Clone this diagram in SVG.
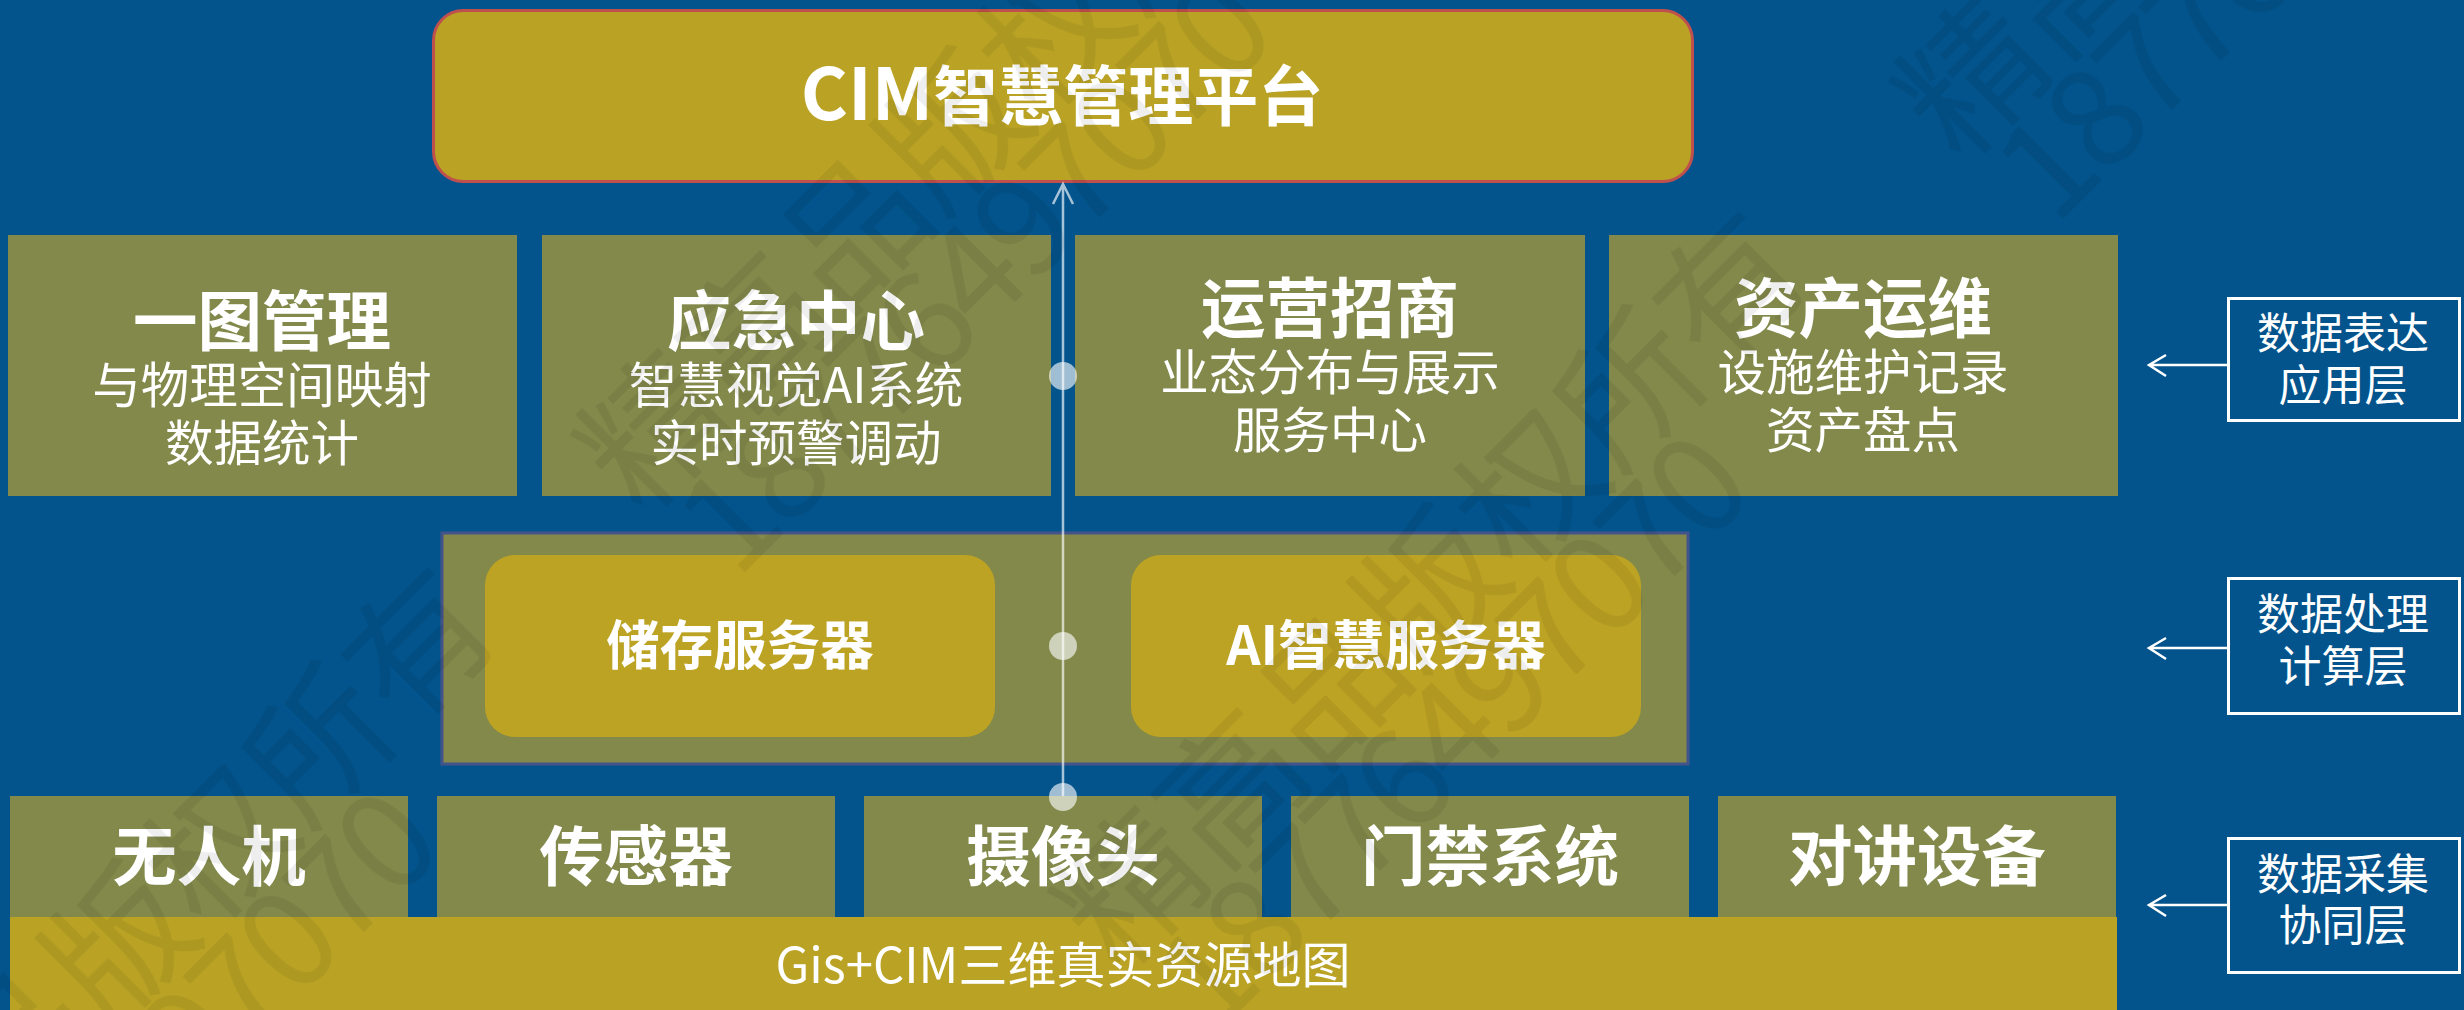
<svg xmlns="http://www.w3.org/2000/svg" width="2464" height="1010" viewBox="0 0 2464 1010">
<style>
text{font-family:"Noto Sans CJK SC","Liberation Sans",sans-serif;fill:#fff;text-anchor:middle}
.t{font-size:65px;font-weight:700}
.t tspan{font-size:72px}
.h{font-size:64.5px;font-weight:700}
.s{font-size:48.5px;font-weight:400}
.g{font-size:49px;font-weight:400}
.m{font-size:53.5px;font-weight:700}
.r{font-size:43px;font-weight:400}
.ol{fill:#82894a}
.gd{fill:#baa324}
.lab{fill:#03548c;stroke:#fff;stroke-width:3}
.wm text{font-size:141px;font-weight:400;fill:#000;text-anchor:end}
.wm .d{font-size:136px;letter-spacing:-6px}
.wm{opacity:.07}
.ln{stroke:#fff;fill:none}
</style>
<rect width="2464" height="1010" fill="#03548c"/>
<g id="platform"><rect x="433.5" y="10.5" width="1259" height="171" rx="30" class="gd" stroke="#c0504d" stroke-width="3"/><text class="t" x="1062" y="120"><tspan>CIM</tspan>智慧管理平台</text></g>
<g id="app1"><rect x="8" y="235" width="509" height="261" class="ol"/><text class="h" x="262" y="345">一图管理</text><text class="s" x="262" y="403">与物理空间映射</text><text class="s" x="262" y="461">数据统计</text></g>
<g id="app2"><rect x="542" y="235" width="509" height="261" class="ol"/><text class="h" x="796" y="345">应急中心</text><text class="s" x="796" y="403">智慧视觉AI系统</text><text class="s" x="796" y="461">实时预警调动</text></g>
<g id="app3"><rect x="1075" y="235" width="510" height="261" class="ol"/><text class="h" x="1330" y="332">运营招商</text><text class="s" x="1330" y="390">业态分布与展示</text><text class="s" x="1330" y="448">服务中心</text></g>
<g id="app4"><rect x="1609" y="235" width="509" height="261" class="ol"/><text class="h" x="1863" y="332">资产运维</text><text class="s" x="1863" y="390">设施维护记录</text><text class="s" x="1863" y="448">资产盘点</text></g>
<g id="servers"><rect x="442" y="533" width="1246" height="231" class="ol" stroke="#44548a" stroke-width="3"/></g>
<g id="storage"><rect x="485" y="555" width="510" height="182" rx="30" fill="#bda324"/><text class="m" x="740" y="665">储存服务器</text></g>
<g id="ai"><rect x="1131" y="555" width="510" height="182" rx="30" fill="#bda324"/><text class="m" x="1386" y="665">AI智慧服务器</text></g>
<g id="d1"><rect x="10" y="796" width="398" height="121" class="ol"/><text class="h" x="209" y="880">无人机</text></g>
<g id="d2"><rect x="437" y="796" width="398" height="121" class="ol"/><text class="h" x="636" y="880">传感器</text></g>
<g id="d3"><rect x="864" y="796" width="398" height="121" class="ol"/><text class="h" x="1063" y="880">摄像头</text></g>
<g id="d4"><rect x="1291" y="796" width="398" height="121" class="ol"/><text class="h" x="1490" y="880">门禁系统</text></g>
<g id="d5"><rect x="1718" y="796" width="398" height="121" class="ol"/><text class="h" x="1917" y="880">对讲设备</text></g>
<g id="map"><rect x="10" y="917" width="2107" height="93" class="gd"/><text class="g" x="1063" y="983">Gis+CIM三维真实资源地图</text></g>
<g id="l1"><rect x="2228.5" y="298.5" width="231" height="122" class="lab"/><text class="r" x="2343" y="349">数据表达</text><text class="r" x="2343" y="401">应用层</text></g>
<g id="l2"><rect x="2228.5" y="578.5" width="231" height="135" class="lab"/><text class="r" x="2343" y="630">数据处理</text><text class="r" x="2343" y="682">计算层</text></g>
<g id="l3"><rect x="2228.5" y="838.5" width="231" height="134" class="lab"/><text class="r" x="2343" y="890">数据采集</text><text class="r" x="2343" y="941">协同层</text></g>
<g id="connectors">
<g class="ln" stroke-width="2.5" opacity=".65"><path d="M1063 796V184M1053 204L1063 184L1073 204"/></g>
<g fill="#fff" opacity=".62"><circle cx="1063" cy="376" r="14"/><circle cx="1063" cy="646" r="14"/><circle cx="1063" cy="797" r="14"/></g>
<g class="ln" stroke-width="2.5"><path d="M2228 365H2149M2166 355L2149 365L2166 376"/><path d="M2228 648H2149M2166 638L2149 648L2166 659"/><path d="M2228 905H2149M2166 895L2149 905L2166 916"/></g>
</g>
<g class="wm">
<g transform="translate(443 853) rotate(-45)"><text class="d" x="0" y="0">18776497070</text><text x="200" y="-113">精高品版权所有</text></g>
<g transform="translate(1277 40) rotate(-45)"><text class="d" x="0" y="0">18776497070</text><text x="200" y="-113">精高品版权所有</text></g>
<g transform="translate(1754 497) rotate(-45)"><text class="d" x="0" y="0">18776497070</text><text x="200" y="-113">精高品版权所有</text></g>
<g transform="translate(2595 -313) rotate(-45)"><text class="d" x="0" y="0">18776497070</text><text x="200" y="-113">精高品版权所有</text></g>
</g>
</svg>
